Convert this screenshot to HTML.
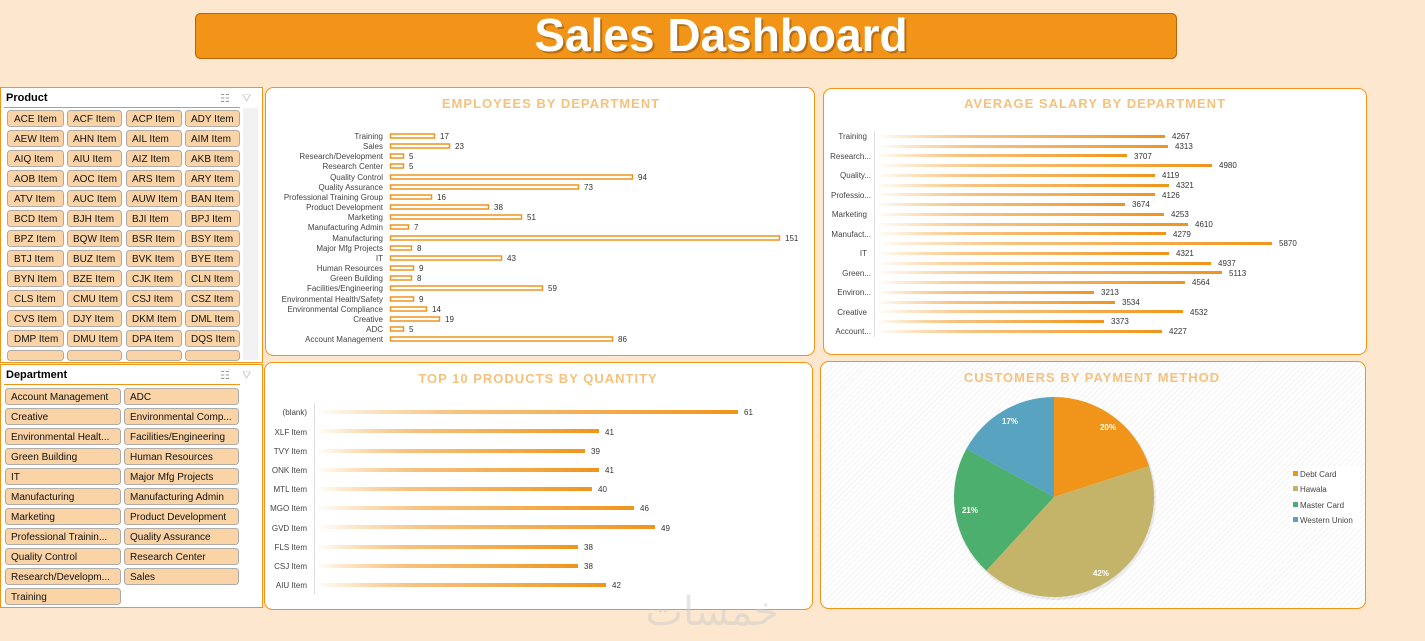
<!DOCTYPE html><html><head><meta charset="utf-8"><style>
body{margin:0;width:1425px;height:641px;background:#fde8cf;overflow:hidden;font-family:"Liberation Sans",sans-serif}
svg{position:absolute;left:0;top:0}
</style></head><body>
<svg width="1425" height="641" font-family="Liberation Sans, DejaVu Sans, sans-serif">
<defs>
<linearGradient id="g" x1="0" x2="1"><stop offset="0" stop-color="#f39a1f" stop-opacity="0"/><stop offset="0.35" stop-color="#f5b15c" stop-opacity="0.8"/><stop offset="1" stop-color="#f0941a"/></linearGradient>
<pattern id="hatch" width="4" height="4" patternUnits="userSpaceOnUse" patternTransform="rotate(45)"><rect width="4" height="4" fill="#fff"/><line x1="0" y1="0" x2="0" y2="4" stroke="#eee" stroke-width="1.5"/></pattern>
</defs>
<!-- title -->
<rect x="195.5" y="13.5" width="981" height="45" rx="5" fill="#f29418" stroke="#b8650a"/>
<text x="723" y="53" text-anchor="middle" font-size="46" font-weight="bold" fill="#7a4a10" opacity="0.5">Sales Dashboard</text>
<text x="721" y="51" text-anchor="middle" font-size="46" font-weight="bold" fill="#fff">Sales Dashboard</text>

<!-- Product slicer -->
<rect x="0.5" y="87.5" width="262" height="275" fill="#fff" stroke="#f29418"/>
<text x="6" y="101" font-size="11" font-weight="bold">Product</text>
<line x1="4" y1="107.5" x2="240" y2="107.5" stroke="#f29418"/>
<text x="220" y="102" font-size="11" fill="#999">☷</text><text x="242" y="102" font-size="11" fill="#ccc">⛛</text>
<rect x="243" y="108" width="15" height="252" fill="#f2f2f2"/>
<g font-size="10" fill="#111">
<g fill="#fad3a6" stroke="#999" stroke-width="0.8">
<rect x="7.5" y="110.5" width="56" height="16" rx="3"/><rect x="67.5" y="110.5" width="54" height="16" rx="3"/><rect x="126.5" y="110.5" width="55" height="16" rx="3"/><rect x="185.5" y="110.5" width="54" height="16" rx="3"/>
<rect x="7.5" y="130.5" width="56" height="16" rx="3"/><rect x="67.5" y="130.5" width="54" height="16" rx="3"/><rect x="126.5" y="130.5" width="55" height="16" rx="3"/><rect x="185.5" y="130.5" width="54" height="16" rx="3"/>
<rect x="7.5" y="150.5" width="56" height="16" rx="3"/><rect x="67.5" y="150.5" width="54" height="16" rx="3"/><rect x="126.5" y="150.5" width="55" height="16" rx="3"/><rect x="185.5" y="150.5" width="54" height="16" rx="3"/>
<rect x="7.5" y="170.5" width="56" height="16" rx="3"/><rect x="67.5" y="170.5" width="54" height="16" rx="3"/><rect x="126.5" y="170.5" width="55" height="16" rx="3"/><rect x="185.5" y="170.5" width="54" height="16" rx="3"/>
<rect x="7.5" y="190.5" width="56" height="16" rx="3"/><rect x="67.5" y="190.5" width="54" height="16" rx="3"/><rect x="126.5" y="190.5" width="55" height="16" rx="3"/><rect x="185.5" y="190.5" width="54" height="16" rx="3"/>
<rect x="7.5" y="210.5" width="56" height="16" rx="3"/><rect x="67.5" y="210.5" width="54" height="16" rx="3"/><rect x="126.5" y="210.5" width="55" height="16" rx="3"/><rect x="185.5" y="210.5" width="54" height="16" rx="3"/>
<rect x="7.5" y="230.5" width="56" height="16" rx="3"/><rect x="67.5" y="230.5" width="54" height="16" rx="3"/><rect x="126.5" y="230.5" width="55" height="16" rx="3"/><rect x="185.5" y="230.5" width="54" height="16" rx="3"/>
<rect x="7.5" y="250.5" width="56" height="16" rx="3"/><rect x="67.5" y="250.5" width="54" height="16" rx="3"/><rect x="126.5" y="250.5" width="55" height="16" rx="3"/><rect x="185.5" y="250.5" width="54" height="16" rx="3"/>
<rect x="7.5" y="270.5" width="56" height="16" rx="3"/><rect x="67.5" y="270.5" width="54" height="16" rx="3"/><rect x="126.5" y="270.5" width="55" height="16" rx="3"/><rect x="185.5" y="270.5" width="54" height="16" rx="3"/>
<rect x="7.5" y="290.5" width="56" height="16" rx="3"/><rect x="67.5" y="290.5" width="54" height="16" rx="3"/><rect x="126.5" y="290.5" width="55" height="16" rx="3"/><rect x="185.5" y="290.5" width="54" height="16" rx="3"/>
<rect x="7.5" y="310.5" width="56" height="16" rx="3"/><rect x="67.5" y="310.5" width="54" height="16" rx="3"/><rect x="126.5" y="310.5" width="55" height="16" rx="3"/><rect x="185.5" y="310.5" width="54" height="16" rx="3"/>
<rect x="7.5" y="330.5" width="56" height="16" rx="3"/><rect x="67.5" y="330.5" width="54" height="16" rx="3"/><rect x="126.5" y="330.5" width="55" height="16" rx="3"/><rect x="185.5" y="330.5" width="54" height="16" rx="3"/>
<rect x="7.5" y="350.5" width="56" height="10" rx="3"/><rect x="67.5" y="350.5" width="54" height="10" rx="3"/><rect x="126.5" y="350.5" width="55" height="10" rx="3"/><rect x="185.5" y="350.5" width="54" height="10" rx="3"/>
</g>
<text x="14" y="122">ACE Item</text><text x="73" y="122">ACF Item</text><text x="132" y="122">ACP Item</text><text x="191" y="122">ADY Item</text>
<text x="14" y="142">AEW Item</text><text x="73" y="142">AHN Item</text><text x="132" y="142">AIL Item</text><text x="191" y="142">AIM Item</text>
<text x="14" y="162">AIQ Item</text><text x="73" y="162">AIU Item</text><text x="132" y="162">AIZ Item</text><text x="191" y="162">AKB Item</text>
<text x="14" y="182">AOB Item</text><text x="73" y="182">AOC Item</text><text x="132" y="182">ARS Item</text><text x="191" y="182">ARY Item</text>
<text x="14" y="202">ATV Item</text><text x="73" y="202">AUC Item</text><text x="132" y="202">AUW Item</text><text x="191" y="202">BAN Item</text>
<text x="14" y="222">BCD Item</text><text x="73" y="222">BJH Item</text><text x="132" y="222">BJI Item</text><text x="191" y="222">BPJ Item</text>
<text x="14" y="242">BPZ Item</text><text x="73" y="242">BQW Item</text><text x="132" y="242">BSR Item</text><text x="191" y="242">BSY Item</text>
<text x="14" y="262">BTJ Item</text><text x="73" y="262">BUZ Item</text><text x="132" y="262">BVK Item</text><text x="191" y="262">BYE Item</text>
<text x="14" y="282">BYN Item</text><text x="73" y="282">BZE Item</text><text x="132" y="282">CJK Item</text><text x="191" y="282">CLN Item</text>
<text x="14" y="302">CLS Item</text><text x="73" y="302">CMU Item</text><text x="132" y="302">CSJ Item</text><text x="191" y="302">CSZ Item</text>
<text x="14" y="322">CVS Item</text><text x="73" y="322">DJY Item</text><text x="132" y="322">DKM Item</text><text x="191" y="322">DML Item</text>
<text x="14" y="342">DMP Item</text><text x="73" y="342">DMU Item</text><text x="132" y="342">DPA Item</text><text x="191" y="342">DQS Item</text>
</g>

<!-- Department slicer -->
<rect x="0.5" y="364.5" width="262" height="243" fill="#fff" stroke="#f29418"/>
<text x="6" y="378" font-size="11" font-weight="bold">Department</text>
<line x1="4" y1="384.5" x2="240" y2="384.5" stroke="#f29418"/>
<text x="220" y="379" font-size="11" fill="#999">☷</text><text x="242" y="379" font-size="11" fill="#ccc">⛛</text>
<g fill="#fad3a6" stroke="#999" stroke-width="0.8">
<rect x="5.5" y="388.5" width="115" height="16" rx="3"/><rect x="124.5" y="388.5" width="114" height="16" rx="3"/>
<rect x="5.5" y="408.5" width="115" height="16" rx="3"/><rect x="124.5" y="408.5" width="114" height="16" rx="3"/>
<rect x="5.5" y="428.5" width="115" height="16" rx="3"/><rect x="124.5" y="428.5" width="114" height="16" rx="3"/>
<rect x="5.5" y="448.5" width="115" height="16" rx="3"/><rect x="124.5" y="448.5" width="114" height="16" rx="3"/>
<rect x="5.5" y="468.5" width="115" height="16" rx="3"/><rect x="124.5" y="468.5" width="114" height="16" rx="3"/>
<rect x="5.5" y="488.5" width="115" height="16" rx="3"/><rect x="124.5" y="488.5" width="114" height="16" rx="3"/>
<rect x="5.5" y="508.5" width="115" height="16" rx="3"/><rect x="124.5" y="508.5" width="114" height="16" rx="3"/>
<rect x="5.5" y="528.5" width="115" height="16" rx="3"/><rect x="124.5" y="528.5" width="114" height="16" rx="3"/>
<rect x="5.5" y="548.5" width="115" height="16" rx="3"/><rect x="124.5" y="548.5" width="114" height="16" rx="3"/>
<rect x="5.5" y="568.5" width="115" height="16" rx="3"/><rect x="124.5" y="568.5" width="114" height="16" rx="3"/>
<rect x="5.5" y="588.5" width="115" height="16" rx="3"/>
</g>
<g font-size="10" fill="#111">
<text x="11" y="400">Account Management</text><text x="130" y="400">ADC</text>
<text x="11" y="420">Creative</text><text x="130" y="420">Environmental Comp...</text>
<text x="11" y="440">Environmental Healt...</text><text x="130" y="440">Facilities/Engineering</text>
<text x="11" y="460">Green Building</text><text x="130" y="460">Human Resources</text>
<text x="11" y="480">IT</text><text x="130" y="480">Major Mfg Projects</text>
<text x="11" y="500">Manufacturing</text><text x="130" y="500">Manufacturing Admin</text>
<text x="11" y="520">Marketing</text><text x="130" y="520">Product Development</text>
<text x="11" y="540">Professional Trainin...</text><text x="130" y="540">Quality Assurance</text>
<text x="11" y="560">Quality Control</text><text x="130" y="560">Research Center</text>
<text x="11" y="580">Research/Developm...</text><text x="130" y="580">Sales</text>
<text x="11" y="600">Training</text>
</g>

<!-- Employees chart -->
<rect x="265.5" y="87.5" width="549" height="268" rx="8" fill="#fff" stroke="#f29418"/>
<text x="551" y="108" text-anchor="middle" font-size="13" font-weight="bold" fill="#f5c27e" letter-spacing="1">EMPLOYEES BY DEPARTMENT</text>
<g font-size="8" fill="#444" text-anchor="end">
<text x="383" y="139">Training</text><text x="383" y="149">Sales</text><text x="383" y="159">Research/Development</text><text x="383" y="169">Research Center</text><text x="383" y="180">Quality Control</text><text x="383" y="190">Quality Assurance</text><text x="383" y="200">Professional Training Group</text><text x="383" y="210">Product Development</text><text x="383" y="220">Marketing</text><text x="383" y="230">Manufacturing Admin</text><text x="383" y="241">Manufacturing</text><text x="383" y="251">Major Mfg Projects</text><text x="383" y="261">IT</text><text x="383" y="271">Human Resources</text><text x="383" y="281">Green Building</text><text x="383" y="291">Facilities/Engineering</text><text x="383" y="302">Environmental Health/Safety</text><text x="383" y="312">Environmental Compliance</text><text x="383" y="322">Creative</text><text x="383" y="332">ADC</text><text x="383" y="342">Account Management</text>
</g>
<g fill="#fff" stroke="#f0941a" stroke-width="1.5">
<rect x="390.5" y="134" width="44" height="4"/><rect x="390.5" y="144" width="59" height="4"/><rect x="390.5" y="154" width="13" height="4"/><rect x="390.5" y="164" width="13" height="4"/><rect x="390.5" y="175" width="242" height="4"/><rect x="390.5" y="185" width="188" height="4"/><rect x="390.5" y="195" width="41" height="4"/><rect x="390.5" y="205" width="98" height="4"/><rect x="390.5" y="215" width="131" height="4"/><rect x="390.5" y="225" width="18" height="4"/><rect x="390.5" y="236" width="389" height="4"/><rect x="390.5" y="246" width="21" height="4"/><rect x="390.5" y="256" width="111" height="4"/><rect x="390.5" y="266" width="23" height="4"/><rect x="390.5" y="276" width="21" height="4"/><rect x="390.5" y="286" width="152" height="4"/><rect x="390.5" y="297" width="23" height="4"/><rect x="390.5" y="307" width="36" height="4"/><rect x="390.5" y="317" width="49" height="4"/><rect x="390.5" y="327" width="13" height="4"/><rect x="390.5" y="337" width="222" height="4"/>
</g>
<g font-size="8" fill="#333">
<text x="440" y="139">17</text><text x="455" y="149">23</text><text x="409" y="159">5</text><text x="409" y="169">5</text><text x="638" y="180">94</text><text x="584" y="190">73</text><text x="437" y="200">16</text><text x="494" y="210">38</text><text x="527" y="220">51</text><text x="414" y="230">7</text><text x="785" y="241">151</text><text x="417" y="251">8</text><text x="507" y="261">43</text><text x="419" y="271">9</text><text x="417" y="281">8</text><text x="548" y="291">59</text><text x="419" y="302">9</text><text x="432" y="312">14</text><text x="445" y="322">19</text><text x="409" y="332">5</text><text x="618" y="342">86</text>
</g>

<!-- Salary chart -->
<rect x="823.5" y="88.5" width="543" height="266" rx="8" fill="#fff" stroke="#f29418"/>
<text x="1095" y="108" text-anchor="middle" font-size="13" font-weight="bold" fill="#f5c27e" letter-spacing="1">AVERAGE SALARY BY DEPARTMENT</text>
<line x1="874.5" y1="131" x2="874.5" y2="337" stroke="#ddd"/>
<g font-size="8" fill="#444" text-anchor="end">
<text x="867" y="139">Training</text><text x="871" y="159">Research...</text><text x="871" y="178">Quality...</text><text x="871" y="198">Professio...</text><text x="867" y="217">Marketing</text><text x="871" y="237">Manufact...</text><text x="867" y="256">IT</text><text x="871" y="276">Green...</text><text x="871" y="295">Environ...</text><text x="867" y="315">Creative</text><text x="871" y="334">Account...</text>
</g>
<g fill="url(#g)">
<rect x="876" y="135" width="289" height="3"/><rect x="876" y="145" width="292" height="3"/><rect x="876" y="154" width="251" height="3"/><rect x="876" y="164" width="336" height="3"/><rect x="876" y="174" width="279" height="3"/><rect x="876" y="184" width="293" height="3"/><rect x="876" y="193" width="279" height="3"/><rect x="876" y="203" width="249" height="3"/><rect x="876" y="213" width="288" height="3"/><rect x="876" y="223" width="312" height="3"/><rect x="876" y="232" width="290" height="3"/><rect x="876" y="242" width="396" height="3"/><rect x="876" y="252" width="293" height="3"/><rect x="876" y="262" width="335" height="3"/><rect x="876" y="271" width="346" height="3"/><rect x="876" y="281" width="309" height="3"/><rect x="876" y="291" width="218" height="3"/><rect x="876" y="301" width="239" height="3"/><rect x="876" y="310" width="307" height="3"/><rect x="876" y="320" width="228" height="3"/><rect x="876" y="330" width="286" height="3"/>
</g>
<g font-size="8" fill="#333">
<text x="1172" y="139">4267</text><text x="1175" y="149">4313</text><text x="1134" y="159">3707</text><text x="1219" y="168">4980</text><text x="1162" y="178">4119</text><text x="1176" y="188">4321</text><text x="1162" y="198">4126</text><text x="1132" y="207">3674</text><text x="1171" y="217">4253</text><text x="1195" y="227">4610</text><text x="1173" y="237">4279</text><text x="1279" y="246">5870</text><text x="1176" y="256">4321</text><text x="1218" y="266">4937</text><text x="1229" y="276">5113</text><text x="1192" y="285">4564</text><text x="1101" y="295">3213</text><text x="1122" y="305">3534</text><text x="1190" y="315">4532</text><text x="1111" y="324">3373</text><text x="1169" y="334">4227</text>
</g>

<!-- Top 10 -->
<rect x="264.5" y="362.5" width="548" height="247" rx="8" fill="#fff" stroke="#f29418"/>
<text x="538" y="383" text-anchor="middle" font-size="13" font-weight="bold" fill="#f5c27e" letter-spacing="1">TOP 10 PRODUCTS BY QUANTITY</text>
<line x1="314.5" y1="403" x2="314.5" y2="594" stroke="#ddd"/>
<g font-size="8" fill="#444" text-anchor="end">
<text x="307" y="415">(blank)</text><text x="307" y="435">XLF Item</text><text x="307" y="454">TVY Item</text><text x="307" y="473">ONK Item</text><text x="307" y="492">MTL Item</text><text x="307" y="511">MGO Item</text><text x="307" y="531">GVD Item</text><text x="307" y="550">FLS Item</text><text x="307" y="569">CSJ Item</text><text x="307" y="588">AIU Item</text>
</g>
<g fill="url(#g)">
<rect x="316" y="410" width="422" height="4"/><rect x="316" y="429" width="283" height="4"/><rect x="316" y="449" width="269" height="4"/><rect x="316" y="468" width="283" height="4"/><rect x="316" y="487" width="276" height="4"/><rect x="316" y="506" width="318" height="4"/><rect x="316" y="525" width="339" height="4"/><rect x="316" y="545" width="262" height="4"/><rect x="316" y="564" width="262" height="4"/><rect x="316" y="583" width="290" height="4"/>
</g>
<g font-size="8" fill="#333">
<text x="744" y="415">61</text><text x="605" y="435">41</text><text x="591" y="454">39</text><text x="605" y="473">41</text><text x="598" y="492">40</text><text x="640" y="511">46</text><text x="661" y="531">49</text><text x="584" y="550">38</text><text x="584" y="569">38</text><text x="612" y="588">42</text>
</g>

<!-- Pie -->
<rect x="820.5" y="361.5" width="545" height="247" rx="8" fill="url(#hatch)" stroke="#f29418"/>
<text x="1092" y="382" text-anchor="middle" font-size="13" font-weight="bold" fill="#f5c27e" letter-spacing="1">CUSTOMERS BY PAYMENT METHOD</text>
<circle cx="1055" cy="499" r="101" fill="#000" opacity="0.08"/>
<path d="M1054,497 L1054,397 A100,100 0 0 1 1149.1,466.1 Z" fill="#f09519"/>
<path d="M1054,497 L1149.1,466.1 A100,100 0 0 1 986.3,570.6 Z" fill="#c4b46a"/>
<path d="M1054,497 L986.3,570.6 A100,100 0 0 1 966.4,448.7 Z" fill="#4caf6e"/>
<path d="M1054,497 L966.4,448.7 A100,100 0 0 1 1054,397 Z" fill="#58a4c0"/>
<g font-size="8" font-weight="bold" fill="#fff" text-anchor="middle">
<text x="1108" y="430">20%</text><text x="1101" y="576">42%</text><text x="970" y="513">21%</text><text x="1010" y="424">17%</text>
</g>
<rect x="1290" y="466" width="70" height="62" fill="#fff"/>
<g font-size="8" fill="#444">
<rect x="1293" y="471" width="5" height="5" fill="#f09519"/><text x="1300" y="477">Debt Card</text>
<rect x="1293" y="486" width="5" height="5" fill="#c4b46a"/><text x="1300" y="492">Hawala</text>
<rect x="1293" y="502" width="5" height="5" fill="#4caf6e"/><text x="1300" y="508">Master Card</text>
<rect x="1293" y="517" width="5" height="5" fill="#58a4c0"/><text x="1300" y="523">Western Union</text>
</g>
<text x="712" y="625" text-anchor="middle" font-size="40" fill="#ccc" opacity="0.5" font-family="DejaVu Sans, sans-serif">خمسات</text>
</svg>
</body></html>
